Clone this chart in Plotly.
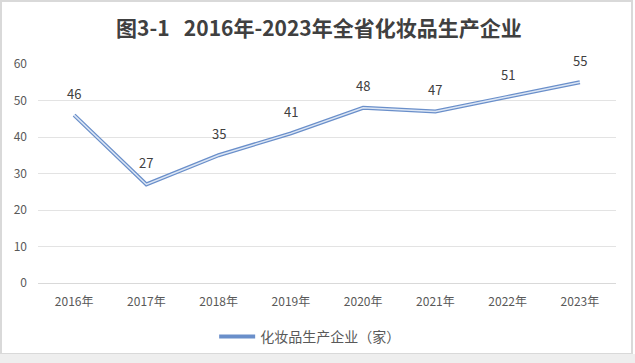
import plotly.graph_objects as go

years = ["2016年", "2017年", "2018年", "2019年", "2020年", "2021年", "2022年", "2023年"]
counts = [46, 27, 35, 41, 48, 47, 51, 55]
series_name = "化妆品生产企业（家）"
title_text = "图3-1   2016年-2023年全省化妆品生产企业"

font_family = "Noto Sans CJK SC, Noto Sans, sans-serif"
grey = "#595959"

W, H = 635, 363
L, R, T, B = 38, 19, 64, 80
pw, ph = W - L - R, H - T - B

fig = go.Figure()
fig.add_trace(go.Scatter(x=years, y=counts, mode="lines", name=series_name,
                         line=dict(color="#6A8FCA", width=4), showlegend=True))
fig.add_trace(go.Scatter(x=years, y=counts, mode="lines", name=series_name,
                         line=dict(color="#DCE6F4", width=1.5), showlegend=False,
                         hoverinfo="skip"))

annotations = [dict(x=x, y=y, text=str(y), showarrow=False, yshift=22,
                    font=dict(size=13, color="#404040", family=font_family))
               for x, y in zip(years, counts)]
annotations.append(dict(x=0.5, y=1, xref="paper", yref="paper", yanchor="middle",
                        xshift=-8, yshift=64 - 27, showarrow=False,
                        text="<b>" + title_text + "</b>",
                        font=dict(size=21, color="#404040", family=font_family)))

fig.update_layout(
    width=W, height=H,
    margin=dict(l=L, r=R, t=T, b=B, autoexpand=False),
    paper_bgcolor="white", plot_bgcolor="white",
    font=dict(family=font_family, color=grey, size=12),
    annotations=annotations,
    showlegend=True,
    legend=dict(orientation="h", x=0.47, xanchor="center", yref="container",
                y=1 - 337 / H, yanchor="middle", itemwidth=36,
                font=dict(size=14, color=grey, family=font_family)),
    xaxis=dict(type="category", range=[-0.5, len(years) - 0.5], showgrid=False,
               showline=True, linecolor="#D9D9D9", ticks="", ticklabelstandoff=8,
               automargin=False, tickfont=dict(size=12, color=grey)),
    yaxis=dict(range=[0, 60], dtick=10, showgrid=True, gridcolor="#E3E3E3",
               zeroline=False, showline=False, ticks="", ticklabelstandoff=10,
               automargin=False, tickfont=dict(size=12, color=grey)),
    shapes=[
        dict(type="rect", xref="paper", yref="paper", x0=-(L - 1) / pw, x1=1 + (R - 3) / pw,
             y0=-(B - 9) / ph, y1=1 + (T - 1) / ph, line=dict(color="#D9D9D9", width=2)),
        dict(type="rect", xref="paper", yref="paper", x0=-L / pw, x1=1 + R / pw,
             y0=-B / ph, y1=-(B - 9) / ph, fillcolor="#EEEEEE", line=dict(width=0)),
    ],
)

fig.write_html("out.html", config={"displayModeBar": False},
               post_script="document.body.style.margin='0';")
